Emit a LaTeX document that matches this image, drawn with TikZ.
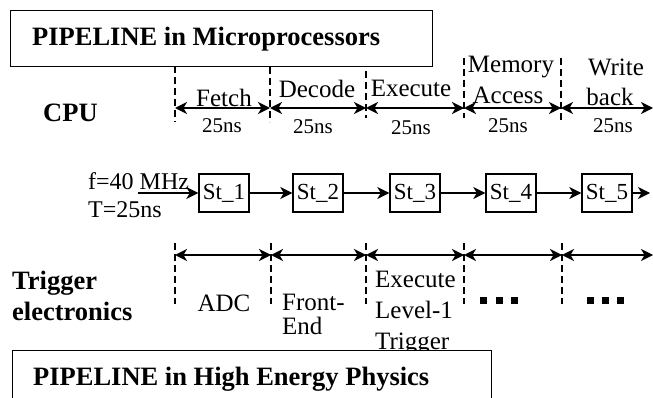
\documentclass[tikz,border=0pt]{standalone}
\usepackage{fontspec}
\setmainfont{Liberation Serif}
\usetikzlibrary{arrows.meta}

\tikzset{
  titlebox/.style={draw, line width=1.4pt, fill=white, inner sep=0pt, anchor=north west},
  boldtext/.style={font=\fontsize{26.5}{31}\selectfont\bfseries, inner sep=0pt},
  phasetext/.style={font=\fontsize{25}{30}\selectfont, inner sep=0pt},
  timetext/.style={font=\fontsize{21}{24}\selectfont, inner sep=0pt},
  clocktext/.style={font=\fontsize{24}{28}\selectfont, inner sep=0pt, anchor=base west},
  stagebox/.style={draw, line width=1.4pt, minimum width=50pt, minimum height=38pt, inner sep=0pt, font=\fontsize{23}{27}\selectfont},
  divider/.style={dash pattern=on 7pt off 4pt, line width=1.2pt},
  spanarrow/.style={line width=1.5pt, {Stealth[length=12pt,width=12pt,inset=3.5pt]}-{Stealth[length=12pt,width=12pt,inset=3.5pt]}},
  flow/.style={line width=1.5pt, -{Stealth[length=12pt,width=12pt,inset=3.5pt]}},
}

\begin{document}
\begin{tikzpicture}[x=1pt,y=-1pt]
    \useasboundingbox (0,0) rectangle (653,398);
    \clip (0,0) rectangle (653,398);

    % CPU pipeline
    \node[titlebox, minimum width=422pt, minimum height=56pt] (cpubox) at (10,10) {};
    \node[boldtext, anchor=base west] (cputitle) at (32,46) {PIPELINE in Microprocessors};
    \node[boldtext, anchor=base west] (cpu) at (43,122) {CPU};

    \foreach \i/\x/\ya/\yb in {1/175/66/122, 2/270/67/122, 3/366/71/118, 4/464/58/118, 5/561/58/122}{
        \draw[divider] (\x,\ya) -- (\x,\yb);
        \coordinate (ta\i) at (\x,108);
    }
    \coordinate (ta6) at (653,108);
    \foreach \a/\b in {1/2, 2/3, 3/4, 4/5, 5/6}
        \draw[spanarrow] (ta\a) -- (ta\b);

    \node[phasetext, anchor=base] (fetch) at (224,107) {Fetch};
    \node[phasetext, anchor=base] (decode) at (317,98) {Decode};
    \node[phasetext, anchor=base] (execute) at (411,97) {Execute};
    \node[phasetext, anchor=base] (memory) at (511,73) {Memory};
    \node[phasetext, anchor=base] (access) at (508,104) {Access};
    \node[phasetext, anchor=base] (write) at (616,76) {Write};
    \node[phasetext, anchor=base] (back) at (610,106) {back};

    \foreach \i/\x/\y in {1/222/133, 2/313/134, 3/411/135, 4/508/133, 5/613/133}
        \node[timetext, anchor=base] (time\i) at (\x,\y) {25ns};

    % clocked stages
    \node[clocktext] (freq) at (88,190) {f=40 MHz};
    \node[clocktext] (period) at (88,218) {T=25ns};
    \coordinate (clkin) at (138,193);
    \foreach \n/\x in {1/224, 2/318, 3/415, 4/511, 5/607}
        \node[stagebox] (st\n) at (\x,193) {St\_\n};
    \coordinate (stout) at (650,193);
    \draw[flow] (clkin) -- (st1);
    \foreach \a/\b in {1/2, 2/3, 3/4, 4/5}
        \draw[flow] (st\a) -- (st\b);
    \draw[flow] (st5) -- (stout);

    % trigger pipeline
    \node[boldtext, anchor=base west] (trig) at (12,289) {Trigger};
    \node[boldtext, anchor=base west] (elec) at (12,320) {electronics};

    \foreach \i/\x in {1/175, 2/271, 3/366, 4/464, 5/562}{
        \draw[divider] (\x,243) -- (\x,304);
        \coordinate (tb\i) at (\x,255);
    }
    \coordinate (tb6) at (653,255);
    \foreach \a/\b in {1/2, 2/3, 3/4, 4/5, 5/6}
        \draw[spanarrow] (tb\a) -- (tb\b);

    \node[phasetext, anchor=base] (adc) at (224,311) {ADC};
    \node[phasetext, anchor=base west] (front) at (282,310) {Front-};
    \node[phasetext, anchor=base west] (fend) at (282,334) {End};
    \node[phasetext, anchor=base west] (exec) at (375,287) {Execute};
    \node[phasetext, anchor=base west] (level) at (375,318) {Level-1};
    \node[phasetext, anchor=base west] (trigger) at (375,349) {Trigger};

    \foreach \x in {480, 495.5, 511, 587, 602, 617}
        \fill (\x,297) rectangle ++(7,7);

    \node[titlebox, minimum width=479pt, minimum height=56pt] (hepbox) at (12,350) {};
    \node[boldtext, anchor=base west] (heptitle) at (33,385) {PIPELINE in High Energy Physics};
\end{tikzpicture}
\end{document}
